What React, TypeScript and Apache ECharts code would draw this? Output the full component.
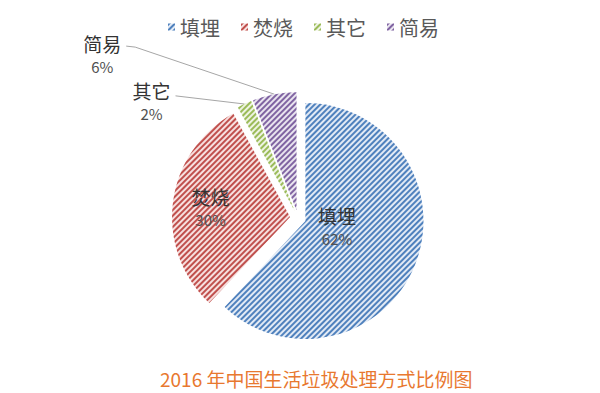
import React, { useEffect, useRef } from "react";
import * as echarts from "echarts";

const categories = ["填埋", "焚烧", "其它", "简易"];
const values = [62, 30, 2, 6];
const lineColors = ["#4F81BD", "#C0504D", "#9BBB59", "#8064A2"];
const fillColors = ["#E2EAF5", "#F7E0DF", "#EEF3E3", "#E9E4EF"];
const titleText = "2016 年中国生活垃圾处理方式比例图";

export default function App() {
  const ref = useRef<HTMLDivElement>(null);
  useEffect(() => {
    document.body.style.margin = "0";
    const chart = echarts.init(ref.current!, null, { renderer: "svg" });
    const font = "'Noto Sans CJK SC', 'Noto Sans', sans-serif";
    const labelLens = [
      null,
      null,
      { length: 9, length2: 65 },
      { length: 49, length2: 139 },
    ];
    const data = categories.map((name, i) => ({
      name,
      value: values[i],
      selected: true,
      itemStyle: {
        color: fillColors[i],
        decal: {
          symbol: "rect",
          symbolSize: 1,
          dashArrayX: [1, 0],
          dashArrayY: [1.5, 1.5],
          rotation: -Math.PI / 4,
          color: lineColors[i],
        },
      },
      label: i < 2 ? { position: "inner" } : { position: "outside" },
      labelLine:
        i < 2
          ? { show: false }
          : {
              show: true,
              length: labelLens[i]!.length,
              length2: labelLens[i]!.length2,
              lineStyle: { color: "#A6A6A6", width: 1 },
            },
    }));
    chart.setOption({
      animation: false,
      textStyle: { fontFamily: font },
      title: {
        text: titleText,
        left: 155,
        bottom: 0,
        textStyle: { color: "#E8782F", fontSize: 19, fontWeight: "normal", fontFamily: font },
      },
      legend: {
        top: 12,
        left: 163,
        icon: "rect",
        itemWidth: 7,
        itemHeight: 7,
        itemGap: 21,
        textStyle: { fontSize: 20, color: "#595959", fontFamily: font },
        data: categories,
        selectedMode: false,
      },
      series: [
        {
          type: "pie",
          center: [298, 218],
          radius: 118,
          startAngle: 90,
          clockwise: true,
          selectedMode: "multiple",
          selectedOffset: 8,
          avoidLabelOverlap: false,
          silent: true,
          label: {
            show: true,
            formatter: "{n|{b}}\n{p|{c}%}",
            rich: {
              n: { fontSize: 19, color: "#333333", lineHeight: 26, align: "center", fontFamily: font },
              p: { fontSize: 15, color: "#505050", lineHeight: 20, align: "center", fontFamily: font },
            },
          },
          select: { itemStyle: { borderWidth: 0 } },
          data,
          labelLayout: (params: any) => {
            const i = params.dataIndex;
            const pts = params.labelLinePoints;
            if (i === 0) return { dx: -26, dy: -18 };
            if (i === 1) return { dx: -18, dy: -3 };
            if (!pts) return {};
            if (i === 2) return { dy: 5, labelLinePoints: [pts[0], pts[2]] };
            return {
              dy: 7,
              labelLinePoints: [pts[0], [pts[2][0] + 9, pts[2][1] + 1], pts[2]],
            };
          },
        },
      ],
    });
    return () => chart.dispose();
  }, []);
  return <div ref={ref} style={{ width: 600, height: 393 }} />;
}
